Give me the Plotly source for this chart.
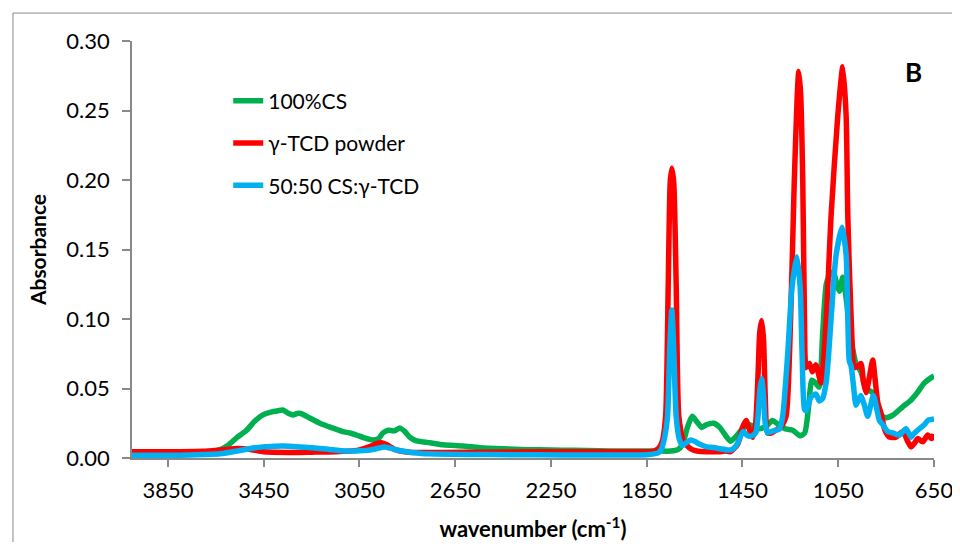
import plotly.graph_objects as go

# ---------------- data ----------------
cs_wn = [4000, 3900, 3800, 3700, 3640, 3600, 3560, 3521, 3490, 3453, 3420, 3390, 3370, 3345, 3328,
         3310, 3295, 3260, 3215, 3170, 3120, 3090, 3062, 3030, 2994, 2970, 2952, 2930, 2905, 2881,
         2860, 2840, 2815, 2780, 2756, 2700, 2619, 2548, 2450, 2350, 2250, 2150, 2050, 1950, 1850,
         1800, 1750, 1720, 1700, 1680, 1660, 1640, 1620, 1600, 1570, 1545, 1520, 1500, 1480, 1450,
         1420, 1400, 1380, 1350, 1325, 1300, 1270, 1240, 1210, 1190, 1175, 1160, 1145, 1130, 1115,
         1100, 1085, 1070, 1055, 1045, 1031, 1017, 1000, 976, 955, 934, 907, 880, 851, 820, 780,
         750, 720, 690, 660, 650]
cs_abs = [0.003, 0.003, 0.0032, 0.004, 0.0055, 0.009, 0.015, 0.020, 0.026, 0.031, 0.033, 0.034, 0.0345, 0.032, 0.031,
          0.032, 0.032, 0.029, 0.025, 0.022, 0.019, 0.018, 0.0165, 0.0145, 0.013, 0.014, 0.018, 0.020, 0.0195, 0.0215,
          0.019, 0.015, 0.0125, 0.0115, 0.011, 0.0095, 0.0086, 0.0074, 0.0066, 0.006, 0.0058, 0.0055, 0.0052, 0.005, 0.005,
          0.005, 0.005, 0.006, 0.010, 0.022, 0.030, 0.026, 0.022, 0.024, 0.025, 0.022, 0.016, 0.012, 0.015, 0.021,
          0.024, 0.022, 0.021, 0.023, 0.027, 0.024, 0.021, 0.020, 0.016, 0.018, 0.035, 0.056, 0.054, 0.051, 0.090,
          0.125, 0.132, 0.134, 0.124, 0.120, 0.130, 0.115, 0.090, 0.068, 0.062, 0.050, 0.047, 0.032, 0.029, 0.031, 0.037,
          0.041, 0.047, 0.054, 0.058, 0.059]

tcd_wn = [4000, 3800, 3700, 3620, 3560, 3500, 3450, 3350, 3250, 3150, 3060, 3010, 2975, 2958, 2935,
          2900, 2860, 2827, 2700, 2500, 2300, 2100, 1900, 1850, 1820, 1800, 1785, 1771, 1760, 1752,
          1745, 1737, 1727, 1716, 1699, 1685, 1660, 1640, 1600, 1550, 1520, 1500, 1470, 1450, 1435,
          1420, 1407, 1395, 1385, 1378, 1370, 1362, 1355, 1345, 1330, 1310, 1290, 1268, 1249, 1234,
          1221, 1215, 1207, 1198, 1191, 1184, 1170, 1158, 1143, 1122, 1100, 1080, 1052, 1031, 1017,
          1010, 996, 982, 969, 955, 945, 934, 920, 906, 895, 885, 871, 855, 836, 809, 780, 760, 746,
          730, 718, 697, 676, 660, 650]
tcd_abs = [0.0045, 0.0045, 0.0048, 0.006, 0.0068, 0.006, 0.0045, 0.004, 0.0042, 0.0045, 0.0055, 0.008, 0.0105, 0.011, 0.0095,
           0.006, 0.0045, 0.004, 0.004, 0.0042, 0.0045, 0.0045, 0.0045, 0.0045, 0.005, 0.007, 0.012, 0.030, 0.126, 0.198,
           0.2084, 0.198, 0.126, 0.030, 0.013, 0.0095, 0.006, 0.005, 0.0045, 0.0045, 0.005, 0.0045, 0.010, 0.022, 0.027,
           0.020, 0.015, 0.025, 0.060, 0.090, 0.099, 0.085, 0.045, 0.018, 0.018, 0.020, 0.022, 0.030, 0.100, 0.197,
           0.262, 0.278, 0.262, 0.197, 0.100, 0.065, 0.068, 0.062, 0.067, 0.054, 0.100, 0.174, 0.246, 0.2815, 0.246,
           0.174, 0.100, 0.065, 0.066, 0.068, 0.055, 0.047, 0.058, 0.0705, 0.055, 0.040, 0.032, 0.020, 0.015, 0.015, 0.019, 0.012, 0.008,
           0.011, 0.014, 0.0117, 0.0165, 0.014, 0.017]

mix_wn = [4000, 3800, 3700, 3633, 3560, 3500, 3453, 3400, 3370, 3300, 3245, 3170, 3104, 3050, 3020,
          2985, 2944, 2910, 2853, 2800, 2756, 2600, 2400, 2200, 2000, 1850, 1820, 1800, 1790, 1775,
          1763, 1754, 1745, 1737, 1727, 1713, 1700, 1685, 1665, 1650, 1630, 1600, 1570, 1540, 1515,
          1497, 1480, 1469, 1448, 1428, 1410, 1395, 1385, 1378, 1370, 1362, 1355, 1345, 1330, 1310,
          1295, 1282, 1261, 1243, 1223, 1209, 1201, 1191, 1184, 1163, 1143, 1129, 1115, 1100, 1090,
          1080, 1059, 1034, 1017, 1010, 1004, 996, 985, 976, 965, 955, 941, 927, 903, 878, 864, 843,
          822, 795, 767, 746, 739, 711, 690, 676, 650]
mix_abs = [0.002, 0.002, 0.0025, 0.003, 0.005, 0.007, 0.008, 0.0085, 0.0086, 0.008, 0.0074, 0.006, 0.005, 0.0052, 0.0055,
           0.0065, 0.008, 0.0065, 0.0045, 0.0035, 0.003, 0.0026, 0.0024, 0.0022, 0.0022, 0.0024, 0.003, 0.004, 0.006, 0.015,
           0.030, 0.078, 0.1065, 0.078, 0.030, 0.013, 0.009, 0.011, 0.013, 0.012, 0.010, 0.008, 0.0075, 0.0065, 0.0058,
           0.0058, 0.008, 0.011, 0.019, 0.016, 0.016, 0.018, 0.030, 0.048, 0.057, 0.045, 0.025, 0.018, 0.019, 0.020,
           0.021, 0.030, 0.075, 0.123, 0.1448, 0.123, 0.075, 0.035, 0.034, 0.044, 0.046, 0.041, 0.043, 0.055, 0.075,
           0.100, 0.146, 0.166, 0.146, 0.100, 0.070, 0.066, 0.050, 0.038, 0.042, 0.045, 0.038, 0.030, 0.045, 0.027, 0.024, 0.019,
           0.018, 0.0165, 0.021, 0.015, 0.0165, 0.021, 0.024, 0.027, 0.028]

series_names = ["100%CS", "γ-TCD powder", "50:50 CS:γ-TCD"]
series_colors = ["#00B050", "#FF0000", "#00B0F0"]
x_ticks = [3850, 3450, 3050, 2650, 2250, 1850, 1450, 1050, 650]
y_ticks = [0.00, 0.05, 0.10, 0.15, 0.20, 0.25, 0.30]

# ---------------- figure ----------------
FONT = "Lato"
fig = go.Figure()
for (wn, ab), name, col in zip([(cs_wn, cs_abs), (tcd_wn, tcd_abs), (mix_wn, mix_abs)],
                               series_names, series_colors):
    fig.add_trace(go.Scatter(
        x=wn, y=ab, name=name, mode="lines", legendgroup=name,
        line=dict(color=col, width=5.5, shape="spline", smoothing=0.6),
    ))

axis_col = "#898989"
# page body has an 8px margin, so the figure is 944x534 placed at (8, 8)
fig.update_layout(
    width=944, height=534,
    paper_bgcolor="white", plot_bgcolor="white",
    margin=dict(l=124, r=18, t=33, b=84, autoexpand=False),
    font=dict(family=FONT, size=22, color="#000000"),
    showlegend=True,
    legend=dict(x=0.12, y=0.905, xanchor="left", yanchor="top",
                bgcolor="rgba(0,0,0,0)", font=dict(size=21, family=FONT),
                tracegroupgap=12),
    xaxis=dict(
        range=[4000, 650], autorange=False, automargin=False,
        tickmode="array", tickvals=x_ticks, ticktext=[str(v) for v in x_ticks],
        showgrid=False, zeroline=False,
        showline=True, linecolor=axis_col, linewidth=1.5,
        ticks="outside", ticklen=7, tickcolor=axis_col, tickwidth=1.5,
        tickfont=dict(size=22, family=FONT),
        ticklabelstandoff=5, ticklabeloverflow="allow",
        title=dict(text="<b>wavenumber (cm<sup>-1</sup>)</b>", font=dict(size=22, family=FONT), standoff=28),
    ),
    yaxis=dict(
        range=[0, 0.30], autorange=False, automargin=False,
        tickmode="array", tickvals=y_ticks, ticktext=[f"{v:.2f}" for v in y_ticks],
        showgrid=False, zeroline=False,
        showline=True, linecolor=axis_col, linewidth=1.5,
        ticks="outside", ticklen=8, tickcolor=axis_col, tickwidth=1.5,
        tickfont=dict(size=22, family=FONT),
        ticklabelstandoff=8, ticklabeloverflow="allow",
        title=dict(text="<b>Absorbance</b>", font=dict(size=21, family=FONT), standoff=14),
    ),
    annotations=[dict(text="<b>B</b>", xref="paper", yref="paper", x=0.975, y=0.925,
                      xanchor="center", yanchor="middle", showarrow=False,
                      font=dict(size=26, family=FONT, color="#000000"))],
    shapes=[dict(type="rect", xref="paper", yref="paper",
                 x0=-0.1484, x1=1.2, y0=-0.4, y1=1.067,
                 line=dict(color=axis_col, width=1), fillcolor="rgba(0,0,0,0)", layer="below")],
)

fig.write_html("out.html")
